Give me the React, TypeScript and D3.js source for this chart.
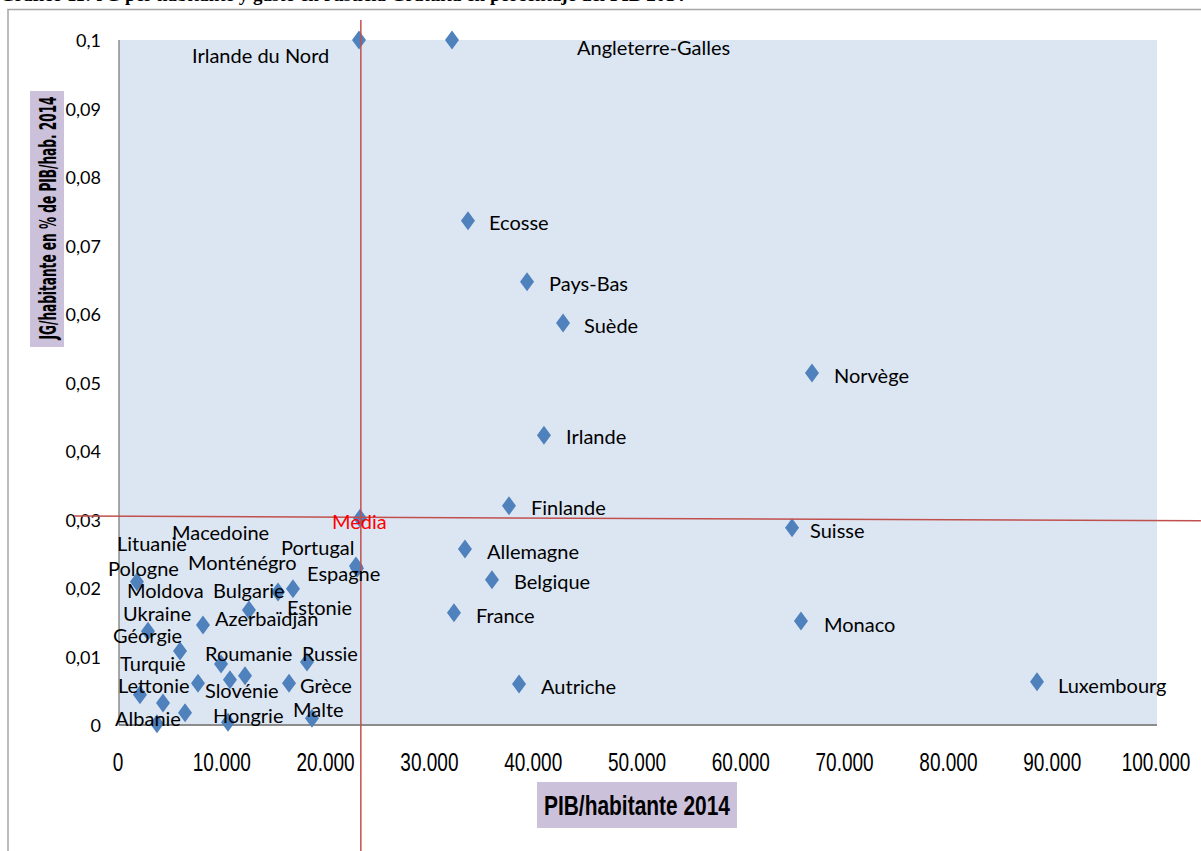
import React from "react";
import * as d3 from "d3";

// JG per inhabitant vs GDP per inhabitant, 2014
const countries = [
  "Irlande du Nord", "Angleterre-Galles", "Ecosse", "Pays-Bas", "Suède", "Norvège",
  "Irlande", "Finlande", "Media", "Suisse", "Allemagne", "Belgique", "France", "Monaco",
  "Autriche", "Luxembourg",
  "Lituanie", "Pologne", "Moldova", "Ukraine", "Géorgie", "Turquie", "Lettonie", "Albanie",
  "Macedoine", "Monténégro", "Bulgarie", "Azerbaïdjan", "Estonie", "Roumanie", "Russie",
  "Slovénie", "Grèce", "Hongrie", "Malte", "Espagne", "Portugal",
];

const pibHab = [
  23120, 32080, 33620, 39310, 42780, 66760,
  40940, 37570, 23220, 64840, 33330, 35930, 32270, 65700,
  38540, 88440,
  1730, 2790, 2020, 8090, 3660, 5880, 4240, 6360,
  7610, 12520, 15320, 9830, 16760, 12140, 18110,
  10690, 16380, 10500, 18590, 22930, 22830,
];

const jgPct = [
  0.1, 0.1, 0.0736, 0.0647, 0.0587, 0.0514,
  0.0423, 0.032, 0.0302, 0.0288, 0.0257, 0.0212, 0.0164, 0.0152,
  0.006, 0.0063,
  0.0209, 0.0137, 0.0044, 0.0146, 0.0002, 0.0108, 0.0032, 0.0018,
  0.0061, 0.0168, 0.0194, 0.0089, 0.0199, 0.0072, 0.0092,
  0.0066, 0.0061, 0.0004, 0.001, 0.0229, 0.0232,
];

// median lines drawn over the chart
const medianPib = 23300;
const medianJgLine: [number, number][] = [
  [-4330, 0.0305],
  [104230, 0.0298],
];

// label placement relative to marker (px)
const labelOffsets: Record<string, [number, number]> = {
  "Irlande du Nord": [-167, 15],
  "Angleterre-Galles": [125, 7],
  Ecosse: [21, 1],
  "Pays-Bas": [22, 1],
  Suède: [21, 2],
  Norvège: [22, 2],
  Irlande: [22, 1],
  Finlande: [22, 1],
  Media: [-28, 3],
  Suisse: [18, 2],
  Allemagne: [22, 2],
  Belgique: [22, 1],
  France: [22, 2],
  Monaco: [23, 3],
  Autriche: [22, 2],
  Luxembourg: [21, 3],
  Lituanie: [-20, -39],
  Pologne: [-40, -63],
  Moldova: [-13, -105],
  Ukraine: [-80, -12],
  Géorgie: [-44, -89],
  Turquie: [-60, 12],
  Lettonie: [-45, -18],
  Albanie: [-70, 5],
  Macedoine: [-26, -151],
  Monténégro: [-61, -48],
  Bulgarie: [-65, -2],
  Azerbaïdjan: [-6, -46],
  Estonie: [-6, 18],
  Roumanie: [-40, -23],
  Russie: [-5, -9],
  Slovénie: [-25, 10],
  Grèce: [11, 2],
  Hongrie: [-15, -7],
  Malte: [-19, -9],
  Espagne: [-50, 5],
  Portugal: [-75, -19],
};

const width = 1201;
const height = 851;
const plot = { left: 119, right: 1157, top: 40, bottom: 725 };

const x = d3.scaleLinear().domain([0, 100000]).range([plot.left, plot.right]);
const y = d3.scaleLinear().domain([0, 0.1]).range([plot.bottom, plot.top]);

const locale = d3.formatLocale({
  decimal: ",",
  thousands: ".",
  grouping: [3],
  currency: ["", " €"],
});
const fmtX = locale.format(",");
const fmtY = locale.format(".2~f");

const diamond = "M0,-9.5L7,0L0,9.5L-7,0Z";
const labelFont = "Lato, 'Noto Sans', sans-serif";
const narrowFont = "'Liberation Sans Narrow', 'Liberation Sans', sans-serif";
const red = "#c0504d";

const points = countries.map((name, i) => ({ name, pib: pibHab[i], jg: jgPct[i] }));

const App = () => {
  const hLine = d3
    .line<[number, number]>()
    .x((d) => x(d[0]))
    .y((d) => y(d[1]));

  return (
    <div style={{ position: "absolute", left: 0, top: 0 }}>
      <svg width={width} height={height} style={{ display: "block", background: "#fff" }}>
        {/* clipped title of the document */}
        <text
          x={0}
          y={1}
          fontFamily="'Liberation Serif', 'Times New Roman', serif"
          fontWeight="bold"
          fontSize={19}
          fill="#000"
        >
          Gráfico 11: JG per habitante y gasto en Justicia Gratuita en porcentaje del PIB 2014
        </text>

        {/* frame */}
        <path d={`M8,${height}V9.5H${width}`} fill="none" stroke="#a6a6a6" strokeWidth={1.5} />

        {/* plot area */}
        <rect
          x={plot.left}
          y={plot.top}
          width={plot.right - plot.left}
          height={plot.bottom - plot.top}
          fill="#dce6f2"
        />
        <line x1={plot.left} x2={plot.left} y1={plot.top} y2={plot.bottom} stroke="#8c8c8c" strokeWidth={1.5} />
        <line x1={plot.left} x2={plot.right} y1={plot.bottom} y2={plot.bottom} stroke="#8c8c8c" strokeWidth={2} />

        {/* y ticks */}
        {y.ticks(10).map((t) => (
          <text
            key={`y${t}`}
            x={101}
            y={y(t)}
            textAnchor="end"
            dominantBaseline="central"
            fontFamily={labelFont}
            fontSize={18}
            fill="#000"
          >
            {fmtY(t)}
          </text>
        ))}

        {/* x ticks */}
        {x.ticks(10).map((t) => (
          <text
            key={`x${t}`}
            transform={`translate(${x(t) - 1},762) scale(1,1.4)`}
            textAnchor="middle"
            dominantBaseline="central"
            fontFamily={narrowFont}
            fontSize={19}
            fill="#000"
          >
            {fmtX(t)}
          </text>
        ))}

        {/* axis titles */}
        <rect x={30} y={91} width={34} height={256} fill="#ccc1da" />
        <text
          transform={`translate(48,218) rotate(-90)`}
          textAnchor="middle"
          dominantBaseline="central"
          fontFamily="'DejaVu Sans', sans-serif"
          fontWeight="bold"
          fontSize={23}
          textLength={243}
          lengthAdjust="spacingAndGlyphs"
          fill="#000"
        >
          JG/habitante en % de PIB/hab. 2014
        </text>

        <rect x={537} y={782} width={200} height={46} fill="#ccc1da" />
        <text
          transform={`translate(637,805) scale(1,1.5)`}
          textAnchor="middle"
          dominantBaseline="central"
          fontFamily={narrowFont}
          fontWeight="bold"
          fontSize={19}
          textLength={186}
          lengthAdjust="spacingAndGlyphs"
          fill="#000"
        >
          PIB/habitante 2014
        </text>

        {/* markers */}
        {points.map((p) => (
          <path key={`m${p.name}`} d={diamond} transform={`translate(${x(p.pib)},${y(p.jg)})`} fill="#4f81bd" />
        ))}

        {/* median lines */}
        <line x1={x(medianPib)} x2={x(medianPib)} y1={20} y2={height} stroke={red} strokeWidth={1.5} />
        <path d={hLine(medianJgLine) || ""} fill="none" stroke={red} strokeWidth={1.5} />

        {/* data labels */}
        {points.map((p) => {
          const [dx, dy] = labelOffsets[p.name] || [20, 0];
          return (
            <text
              key={`l${p.name}`}
              x={x(p.pib) + dx}
              y={y(p.jg) + dy}
              dominantBaseline="central"
              fontFamily={labelFont}
              fontSize={20}
              fill={p.name === "Media" ? "#ff0000" : "#000"}
            >
              {p.name}
            </text>
          );
        })}
      </svg>
    </div>
  );
};

export default App;
